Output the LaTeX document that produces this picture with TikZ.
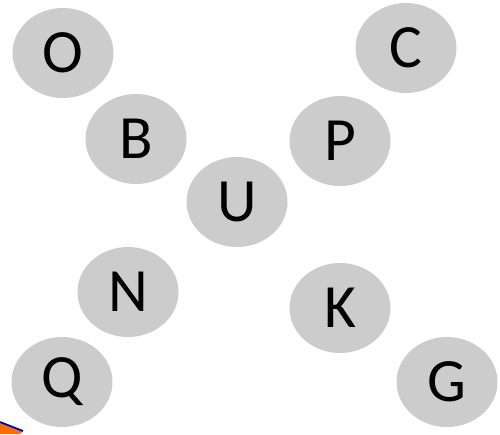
\documentclass[tikz,border=0pt]{standalone}
\usepackage{fontspec}
\setmainfont{Carlito}
\usepackage{tikz}
\usetikzlibrary{shapes.geometric}
\tikzset{
	letterblob/.style={ellipse, fill=gray!40, minimum width=2.02cm, minimum height=1.8cm, inner sep=0pt, font=\fontsize{35}{40}\selectfont},
	arrowtip/.style={fill=orange!85!red, draw=blue!60!black, line width=1pt},
}

\begin{document}
\begin{tikzpicture}
				\useasboundingbox (0,0) rectangle (10,8.68);
				% Letters on the falling diagonal
				\node[letterblob] (o) at (1.26,7.62) {O};
				\node[letterblob] (b) at (2.72,5.90) {B};
				\node[letterblob] (u) at (4.74,4.64) {U};
				\node[letterblob] (k) at (6.80,2.52) {K};
				\node[letterblob] (g) at (8.94,1.04) {G};
				% Letters on the rising diagonal
				\node[letterblob] (c) at (8.12,7.72) {C};
				\node[letterblob] (p) at (6.80,5.86) {P};
				\node[letterblob] (n) at (2.56,2.84) {N};
				\node[letterblob] (q) at (1.24,1.04) {Q};
				% Corner of an arrow cut off by the page
				\fill[arrowtip, draw=none] (0,0) -- (0,0.24) -- (0.46,0.06) -- (0.40,0) -- cycle;
				\draw[arrowtip, fill=none] (0,0.24) -- (0.46,0.06);
\end{tikzpicture}
\end{document}
